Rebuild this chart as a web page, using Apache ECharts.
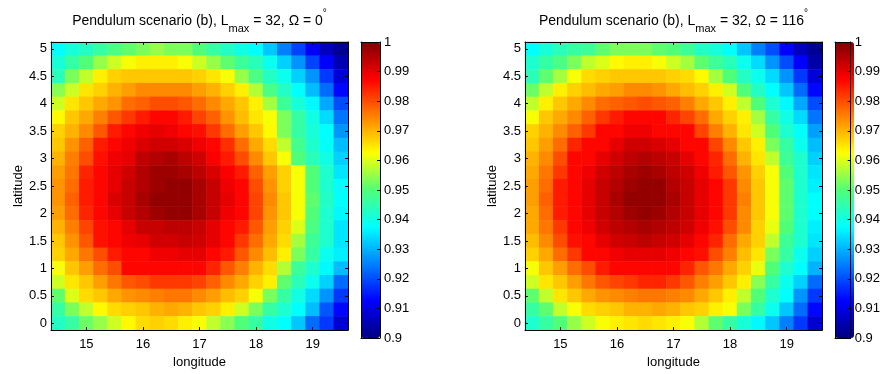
<!DOCTYPE html>
<html>
<head>
<meta charset="utf-8">
<script src="https://cdn.jsdelivr.net/npm/echarts@6/dist/echarts.min.js"></script>
<style>
html,body{margin:0;padding:0;background:#fff;}
#chart{width:883px;height:374px;}
</style>
</head>
<body>
<div id="chart"></div>
<script>
// Longitude / latitude cell centres
const lon = [14.5,14.75,15,15.25,15.5,15.75,16,16.25,16.5,16.75,17,17.25,17.5,17.75,18,18.25,18.5,18.75,19,19.25,19.5];
const lat = [0,0.25,0.5,0.75,1,1.25,1.5,1.75,2,2.25,2.5,2.75,3,3.25,3.5,3.75,4,4.25,4.5,4.75,5];
const xTicks = [15,16,17,18,19];
const yTicks = [0,0.5,1,1.5,2,2.5,3,3.5,4,4.5,5];
const cbTicks = [0.9,0.91,0.92,0.93,0.94,0.95,0.96,0.97,0.98,0.99,1];
const titles = ['0', '116'];

// Omega = 0 ; rows listed from latitude 5 (top) down to latitude 0 (bottom)
const omega0 = [
[.9375,.941,.943,.946,.949,.951,.953,.955,.953,.953,.950,.946,.943,.940,.9375,.932,.925,.919,.912,.906,.902],
[.941,.946,.950,.955,.959,.962,.964,.964,.964,.962,.959,.955,.951,.947,.944,.939,.933,.927,.919,.9125,.905],
[.944,.953,.958,.964,.967,.968,.968,.968,.968,.968,.967,.965,.962,.955,.949,.943,.939,.933,.927,.918,.909],
[.954,.959,.965,.967,.970,.972,.974,.974,.974,.974,.972,.970,.967,.964,.957,.949,.943,.9375,.931,.923,.913],
[.959,.965,.968,.971,.973,.977,.978,.980,.980,.979,.977,.974,.971,.968,.964,.956,.947,.941,.937,.929,.920],
[.963,.968,.971,.975,.979,.982,.985,.987,.987,.985,.981,.978,.973,.969,.965,.962,.953,.946,.940,.934,.924],
[.967,.970,.974,.979,.985,.987,.989,.990,.989,.987,.986,.982,.977,.972,.968,.963,.953,.946,.941,.9375,.927],
[.968,.973,.978,.985,.987,.989,.991,.992,.992,.991,.989,.987,.983,.977,.971,.966,.958,.948,.942,.938,.931],
[.970,.975,.980,.986,.989,.990,.994,.995,.996,.994,.992,.988,.985,.980,.974,.968,.962,.950,.944,.940,.933],
[.972,.976,.984,.987,.990,.992,.995,.997,.997,.996,.994,.991,.988,.985,.978,.972,.967,.962,.950,.942,.935],
[.973,.977,.985,.987,.990,.993,.995,.997,.998,.998,.996,.993,.989,.987,.980,.973,.967,.962,.950,.942,.9375],
[.973,.978,.985,.987,.991,.993,.996,.998,.998,.998,.996,.993,.990,.987,.981,.974,.968,.962,.951,.943,.938],
[.972,.977,.984,.987,.990,.993,.995,.997,.998,.998,.996,.993,.989,.987,.981,.973,.968,.962,.950,.942,.937],
[.970,.975,.981,.986,.987,.990,.993,.993,.994,.994,.993,.990,.987,.985,.979,.972,.967,.960,.949,.942,.935],
[.968,.973,.979,.986,.987,.989,.990,.992,.992,.993,.992,.990,.987,.982,.977,.971,.966,.956,.947,.942,.935],
[.967,.971,.976,.980,.985,.987,.987,.989,.989,.990,.990,.987,.985,.979,.974,.969,.964,.953,.946,.939,.936],
[.962,.968,.972,.977,.980,.987,.987,.987,.987,.987,.987,.984,.979,.975,.970,.966,.957,.947,.942,.937,.931],
[.959,.965,.968,.972,.976,.979,.980,.982,.982,.982,.981,.978,.974,.971,.967,.964,.951,.944,.939,.933,.923],
[.951,.960,.966,.968,.971,.973,.974,.975,.976,.976,.974,.972,.969,.967,.962,.953,.946,.940,.934,.927,.918],
[.946,.953,.958,.963,.966,.967,.968,.970,.971,.970,.968,.967,.964,.959,.953,.946,.942,.9375,.931,.921,.913],
[.943,.946,.952,.955,.959,.963,.966,.967,.966,.964,.962,.958,.954,.950,.946,.940,.9375,.932,.923,.918,.908]
];

// Omega = 116 ; rows listed from latitude 5 (top) down to latitude 0 (bottom)
const omega116 = [
[.9375,.941,.944,.946,.947,.951,.953,.953,.953,.951,.950,.947,.943,.941,.9375,.932,.925,.920,.9125,.906,.902],
[.942,.946,.949,.953,.958,.960,.963,.964,.964,.962,.959,.956,.951,.947,.944,.939,.934,.927,.920,.9125,.904],
[.944,.951,.956,.962,.966,.967,.968,.968,.968,.968,.967,.966,.963,.956,.950,.943,.939,.934,.927,.918,.909],
[.952,.958,.964,.967,.969,.971,.972,.974,.974,.973,.971,.969,.967,.964,.959,.950,.943,.9375,.932,.923,.913],
[.958,.964,.968,.971,.974,.977,.978,.979,.980,.979,.978,.975,.971,.968,.964,.958,.950,.942,.937,.929,.920],
[.962,.968,.971,.974,.978,.982,.985,.987,.987,.987,.984,.981,.977,.971,.967,.964,.956,.946,.940,.934,.924],
[.967,.970,.974,.978,.982,.987,.987,.989,.989,.987,.987,.987,.981,.975,.970,.965,.959,.950,.942,.938,.928],
[.968,.972,.977,.984,.987,.987,.990,.992,.992,.991,.990,.987,.987,.981,.974,.968,.964,.953,.946,.939,.931],
[.970,.974,.980,.987,.987,.990,.992,.994,.995,.994,.993,.990,.987,.984,.977,.970,.965,.958,.947,.942,.933],
[.971,.976,.982,.987,.989,.992,.994,.996,.997,.996,.994,.992,.989,.985,.979,.973,.967,.962,.950,.942,.935],
[.972,.977,.985,.987,.990,.993,.995,.997,.998,.998,.995,.993,.990,.987,.982,.974,.968,.962,.951,.942,.936],
[.972,.978,.985,.987,.990,.993,.996,.998,.998,.998,.996,.993,.990,.987,.982,.975,.968,.962,.951,.942,.9375],
[.971,.977,.985,.987,.990,.993,.995,.997,.998,.997,.995,.993,.990,.987,.982,.974,.968,.962,.951,.942,.9375],
[.971,.976,.982,.987,.989,.992,.994,.995,.996,.995,.994,.992,.989,.986,.980,.974,.967,.961,.950,.942,.936],
[.969,.974,.980,.986,.987,.990,.992,.993,.994,.993,.992,.990,.987,.984,.977,.971,.967,.958,.947,.942,.935],
[.967,.971,.977,.982,.987,.987,.989,.990,.990,.990,.989,.987,.986,.980,.975,.969,.965,.953,.946,.939,.933],
[.962,.968,.972,.977,.980,.985,.987,.987,.987,.987,.987,.984,.979,.976,.971,.967,.961,.950,.942,.9375,.930],
[.959,.965,.968,.972,.976,.979,.981,.982,.984,.984,.982,.979,.975,.972,.968,.964,.954,.946,.939,.933,.923],
[.951,.958,.965,.968,.971,.973,.974,.975,.976,.976,.975,.974,.971,.968,.964,.958,.950,.942,.9375,.927,.918],
[.946,.951,.958,.962,.966,.967,.968,.970,.970,.971,.970,.968,.967,.964,.962,.953,.946,.939,.932,.923,.913],
[.942,.946,.950,.955,.959,.962,.964,.965,.966,.965,.964,.962,.957,.951,.946,.941,.937,.932,.925,.918,.908]
];

const jet = ['#000080','#0000ff','#0080ff','#00ffff','#50ff78','#ffff00','#ff8000','#ff0000','#800000'];
const FONT = 'Liberation Sans, Arial, sans-serif';

function toData(rows){
  const out = [];
  rows.forEach((row, r) => {
    const yi = lat.length - 1 - r;
    row.forEach((v, xi) => out.push([xi, yi, v]));
  });
  return out;
}

const lonCats = lon.map(String);
const latCats = lat.map(String);
const showX = (i, v) => xTicks.indexOf(Number(v)) >= 0;
const showY = (i, v) => yTicks.indexOf(Number(v)) >= 0;

const plotLeft = [51, 525];
const cbLeft = [361, 835];
const TOP = 42, H = 296, W = 297, CBW = 19;

const grids = [], xAxes = [], yAxes = [], series = [], visualMaps = [], texts = [];
const lineStyle = {color:'#000', width:1};
const labelStyle = {color:'#000', fontFamily: FONT, fontSize: 13};

[omega0, omega116].forEach((rows, k) => {
  grids.push({left: plotLeft[k], top: TOP, width: W, height: H, containLabel:false});
  grids.push({left: cbLeft[k], top: TOP, width: CBW, height: H, containLabel:false});
  const g = 2*k, gc = 2*k+1;
  xAxes.push({
    type:'category', data: lonCats, gridIndex: g, position:'bottom', z: 10,
    axisLine:{show:true, lineStyle},
    axisTick:{show:true, inside:true, length:3, alignWithLabel:true, interval: showX, lineStyle},
    axisLabel:{show:true, interval: showX, margin:8, ...labelStyle},
    splitLine:{show:false},
    name:'longitude', nameLocation:'middle', nameGap: 21,
    nameTextStyle:{color:'#000', fontFamily: FONT, fontSize: 13}
  });
  xAxes.push({
    type:'category', data: lonCats, gridIndex: g, position:'top', z: 10,
    axisLine:{show:true, lineStyle},
    axisTick:{show:true, inside:true, length:3, alignWithLabel:true, interval: showX, lineStyle},
    axisLabel:{show:false}, splitLine:{show:false}
  });
  yAxes.push({
    type:'category', data: latCats, gridIndex: g, position:'left', z: 10,
    axisLine:{show:true, lineStyle},
    axisTick:{show:true, inside:true, length:3, alignWithLabel:true, interval: showY, lineStyle},
    axisLabel:{show:true, interval: showY, margin:4, ...labelStyle},
    splitLine:{show:false},
    name:'latitude', nameLocation:'middle', nameGap: 24, nameRotate: 90,
    nameTextStyle:{color:'#000', fontFamily: FONT, fontSize: 13}
  });
  yAxes.push({
    type:'category', data: latCats, gridIndex: g, position:'right', z: 10,
    axisLine:{show:true, lineStyle},
    axisTick:{show:true, inside:true, length:3, alignWithLabel:true, interval: showY, lineStyle},
    axisLabel:{show:false}, splitLine:{show:false}
  });
  xAxes.push({type:'value', gridIndex: gc, min:0, max:1, position:'bottom', z: 10,
    axisLine:{show:true, onZero:false, lineStyle}, axisTick:{show:false}, axisLabel:{show:false}, splitLine:{show:false}});
  xAxes.push({type:'value', gridIndex: gc, min:0, max:1, position:'top', z: 10,
    axisLine:{show:true, onZero:false, lineStyle}, axisTick:{show:false}, axisLabel:{show:false}, splitLine:{show:false}});
  yAxes.push({type:'value', gridIndex: gc, min:0.9, max:1, interval:0.01, position:'right', z: 10,
    axisLine:{show:true, onZero:false, lineStyle},
    axisTick:{show:true, inside:true, length:3, lineStyle},
    axisLabel:{show:true, margin:4, ...labelStyle, formatter: v => String(Math.round(v*100)/100)},
    splitLine:{show:false}});
  yAxes.push({type:'value', gridIndex: gc, min:0.9, max:1, interval:0.01, position:'left', z: 10,
    axisLine:{show:true, onZero:false, lineStyle},
    axisTick:{show:false}, axisLabel:{show:false}, splitLine:{show:false}});

  series.push({
    type:'heatmap', xAxisIndex: 4*k, yAxisIndex: 4*k,
    data: toData(rows), emphasis:{disabled:true}, progressive:0, animation:false
  });
  visualMaps.push({
    type:'continuous', min: cbTicks[0], max: cbTicks[cbTicks.length-1], seriesIndex: k, dimension: 2,
    show:true, calculable:false, hoverLink:false, realtime:false,
    left: cbLeft[k], top: TOP, itemWidth: CBW, itemHeight: H, padding:0,
    text: null, showLabel:false, inRange:{color: jet}
  });
  const cx = plotLeft[k] + W/2;
  texts.push({
    type:'text', z: 20,
    x: cx, y: 21,
    style:{
      text: '{a|Pendulum scenario (b), L}{s|max}{a| = 32, Ω = ' + titles[k] + '}{p|°}',
      rich:{
        a:{fontFamily: FONT, fontSize:14, fill:'#000', lineHeight:26, verticalAlign:'middle'},
        s:{fontFamily: FONT, fontSize:11, fill:'#000', lineHeight:26, verticalAlign:'bottom'},
        p:{fontFamily: FONT, fontSize:10, fill:'#000', lineHeight:26, verticalAlign:'top'}
      },
      align:'center', verticalAlign:'middle'
    }
  });
});

const chart = echarts.init(document.getElementById('chart'), null, {renderer:'canvas'});
chart.setOption({
  animation:false,
  backgroundColor:'#fff',
  grid: grids, xAxis: xAxes, yAxis: yAxes, series, visualMap: visualMaps,
  graphic: texts
});
</script>
</body>
</html>
